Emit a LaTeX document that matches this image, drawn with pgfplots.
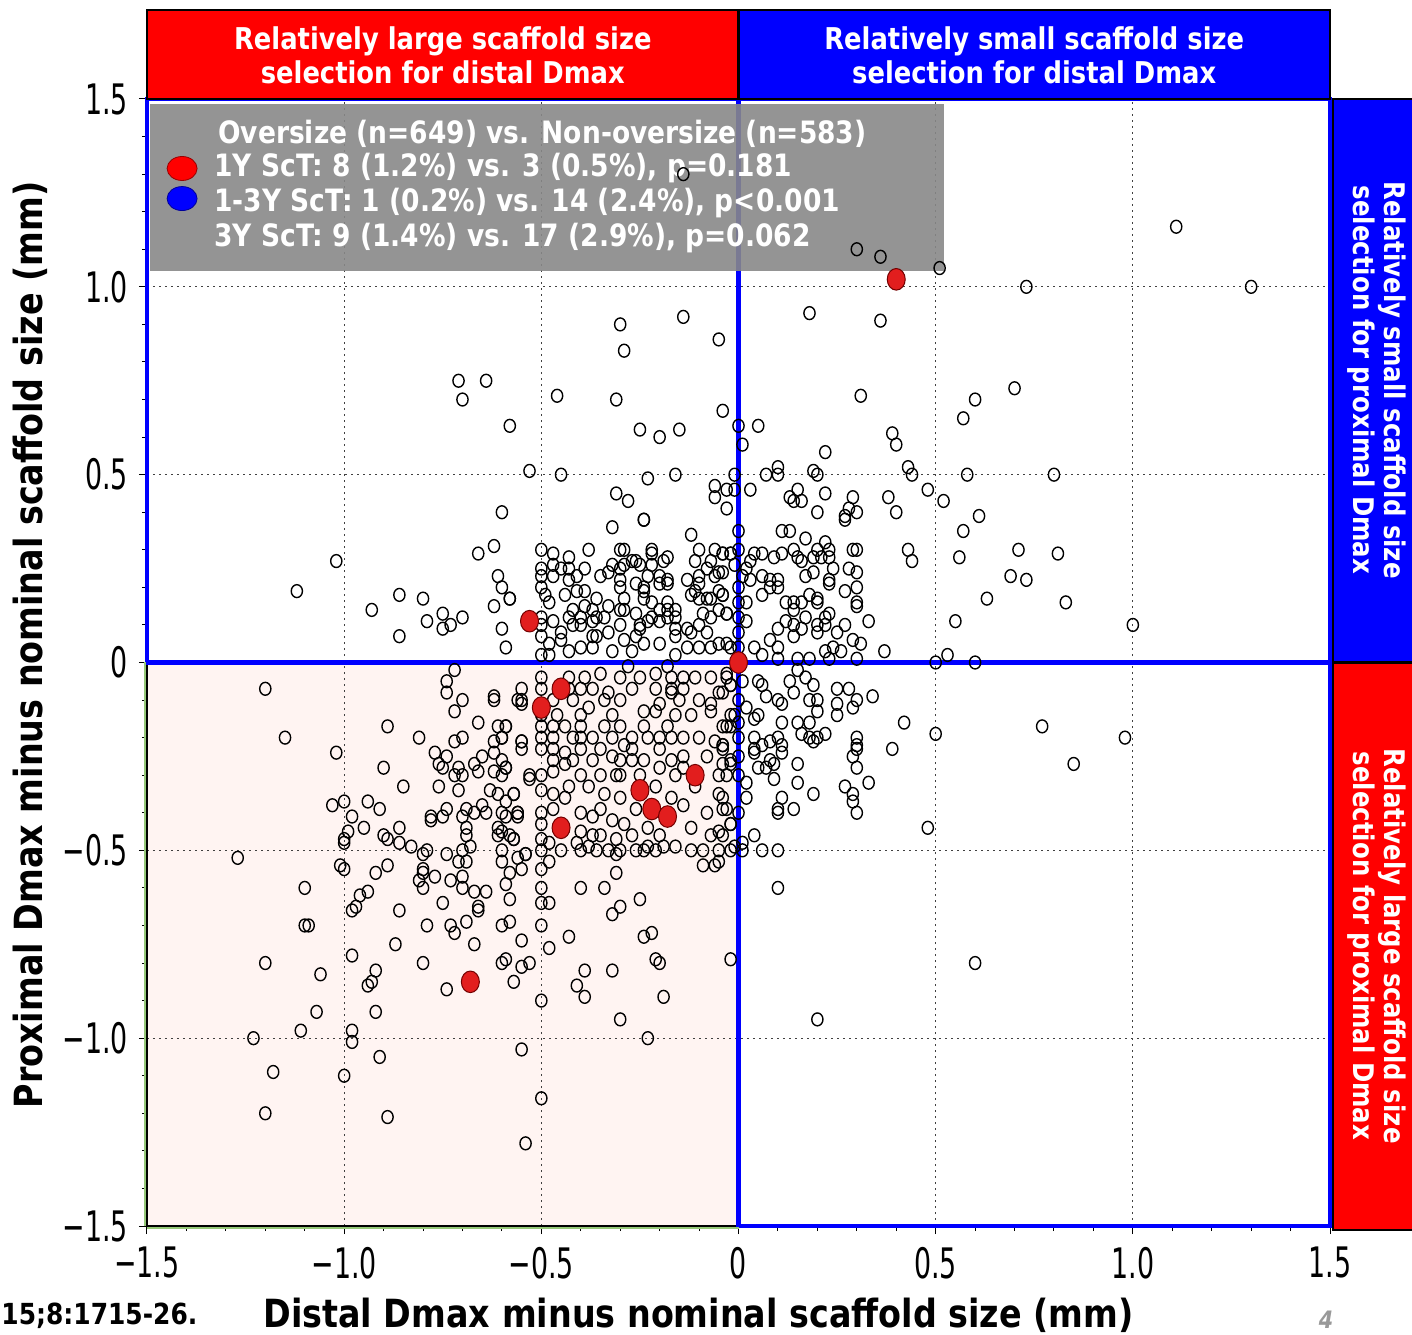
\documentclass[border=0pt]{standalone}
\usepackage{fontspec}
\setmainfont{DejaVu Sans}
\newfontfamily\condfont[FakeStretch=0.86]{DejaVu Sans}
\newfontfamily\tickfont[FakeStretch=0.64]{DejaVu Sans}
\usepackage{pgfplots}
\pgfplotsset{compat=1.18}

\definecolor{hdred}{RGB}{255,0,0}
\definecolor{hdblue}{RGB}{0,0,255}
\definecolor{dotred}{RGB}{226,30,30}
\definecolor{pinkbg}{RGB}{255,244,242}
\definecolor{legendgray}{RGB}{136,136,136}
\definecolor{axisgreen}{RGB}{150,200,120}

\begin{document}
\begin{tikzpicture}
\useasboundingbox (-73.5pt,-54pt) rectangle (632.5pt,613pt);
% lower-left quadrant shading (under the grid)
\fill[pinkbg] (0pt,0pt) rectangle (295.75pt,281.75pt);
\begin{axis}[
  scale only axis, width=591.5pt, height=563.5pt,
  at={(0pt,0pt)}, anchor=south west,
  xmin=-1.5, xmax=1.5, ymin=-1.5, ymax=1.5,
  clip=false,
  xtick={-1.5,-1,-0.5,0,0.5,1,1.5},
  ytick={-1.5,-1,-0.5,0,0.5,1,1.5},
  xticklabels={−1.5,−1.0,−0.5,0,0.5,1.0,1.5},
  yticklabels={−1.5,−1.0,−0.5,0,0.5,1.0,1.5},
  minor tick num=4,
  xtick pos=bottom, ytick pos=left,
  tick align=outside, major tick length=4pt, minor tick length=2.5pt,
  tick style={black, line width=0.5pt},
  grid=major,
  major grid style={black!75, line width=0.6pt, dash pattern=on 0.8pt off 2.2pt},
  axis line style={black, line width=0.6pt},
  xticklabel style={font=\tickfont\fontsize{21}{24}\selectfont, yshift=-3pt},
  yticklabel style={font=\tickfont\fontsize{21}{24}\selectfont, xshift=-2pt},
]
% part of the distal divider that passes under the legend box
\draw[hdblue, line width=2.2pt] (axis cs:0,1.04) -- (axis cs:0,1.5);
% legend panel
\fill[legendgray, fill opacity=0.9] (axis cs:-1.492,1.488) rectangle (axis cs:0.521,1.043);

% all patients
\addplot[only marks, mark=o, mark size=2.8pt,
  mark options={draw=black, line width=0.7pt, yscale=1.15}] coordinates {
(-0.71,0.75)(-0.64,0.75)(-0.70,0.70)(-0.58,0.63)(-0.53,0.51)(-0.60,0.40)(-0.62,0.31)(-0.66,0.29)(-1.02,0.27)(-1.12,0.19)(-0.61,0.23)(-0.60,0.20)(-0.58,0.17)(-0.62,0.15)(-0.86,0.18)(-0.80,0.17)(-0.93,0.14)(-0.75,0.13)(-0.79,0.11)(-0.70,0.12)(-0.73,0.10)(-0.75,0.09)(-0.86,0.07)(-0.60,0.09)(-0.59,0.04)
(-0.50,0.30)(-0.50,0.25)(-0.50,0.23)(-0.50,0.20)(-0.50,0.12)(-0.50,0.10)(-0.50,0.07)(-0.50,0.02)
(-0.46,0.71)(-0.45,0.50)(-0.30,0.90)(-0.29,0.83)(-0.14,0.92)(-0.05,0.86)(-0.31,0.70)(-0.25,0.62)(-0.20,0.60)(-0.15,0.62)(-0.04,0.67)(-0.31,0.45)(-0.28,0.43)(-0.24,0.38)(-0.23,0.49)(-0.16,0.50)(-0.06,0.47)(-0.06,0.44)(-0.03,0.46)(-0.12,0.34)(-0.32,0.36)(-0.14,1.30)
(-0.24,0.38)(-0.47,0.29)(-0.43,0.28)(-0.38,0.30)(-0.30,0.30)(-0.29,0.30)(-0.22,0.30)(-0.22,0.29)(-0.18,0.28)(-0.10,0.30)(-0.06,0.30)(-0.04,0.29)(-0.02,0.29)
(-0.49,0.18)(-0.48,0.16)(-0.47,0.26)(-0.47,0.23)(-0.45,0.25)(-0.43,0.25)(-0.43,0.22)(-0.41,0.23)(-0.39,0.25)(-0.35,0.23)(-0.33,0.24)(-0.32,0.26)(-0.30,0.25)(-0.29,0.26)(-0.27,0.27)(-0.26,0.27)(-0.25,0.26)(-0.22,0.26)(-0.19,0.27)
(-0.30,0.22)(-0.30,0.20)(-0.26,0.21)(-0.24,0.20)(-0.24,0.19)(-0.23,0.23)(-0.20,0.23)(-0.20,0.21)(-0.18,0.22)(-0.18,0.21)(-0.13,0.22)(-0.11,0.27)(-0.10,0.23)(-0.10,0.21)(-0.08,0.25)(-0.07,0.27)(-0.06,0.23)(-0.05,0.24)(-0.05,0.19)(-0.04,0.18)(-0.11,0.19)(-0.12,0.18)(-0.10,0.17)(-0.08,0.17)(-0.07,0.17)
(-0.44,0.18)(-0.41,0.19)(-0.39,0.19)(-0.36,0.17)(-0.33,0.15)(-0.29,0.17)(-0.29,0.14)(-0.26,0.13)(-0.24,0.17)(-0.22,0.16)(-0.20,0.14)(-0.18,0.16)(-0.18,0.14)(-0.16,0.12)
(-0.42,0.14)(-0.39,0.15)(-0.37,0.14)(-0.36,0.12)(-0.34,0.12)(-0.40,0.12)(-0.43,0.12)(-0.47,0.11)(-0.48,0.05)(-0.45,0.08)(-0.45,0.06)(-0.42,0.10)(-0.40,0.10)(-0.37,0.11)(-0.37,0.07)(-0.36,0.07)(-0.33,0.08)(-0.30,0.14)(-0.30,0.10)(-0.29,0.06)(-0.26,0.07)(-0.25,0.10)(-0.25,0.09)(-0.23,0.11)(-0.22,0.12)(-0.20,0.11)(-0.18,0.12)(-0.16,0.09)(-0.16,0.07)(-0.13,0.09)(-0.12,0.08)(-0.10,0.10)(-0.09,0.13)(-0.08,0.08)(-0.07,0.12)(-0.05,0.14)(-0.03,0.13)(-0.05,0.05)(-0.02,0.04)
(-0.58,0.17)(-0.48,0.02)(-0.43,0.03)(-0.40,0.04)(-0.37,0.04)(-0.32,0.03)(-0.27,0.03)(-0.24,0.05)(-0.20,0.05)(-0.16,0.02)(-0.13,0.04)(-0.10,0.04)(-0.07,0.04)(-0.16,0.14)
(-0.50,-0.04)(-0.50,-0.07)(-0.55,-0.07)(-0.55,-0.11)(-0.59,-0.17)(-0.60,-0.20)(-0.55,-0.21)(-0.55,-0.23)(-0.53,-0.30)(-0.59,-0.28)(-0.57,-0.35)(-0.56,-0.40)(-0.59,-0.41)(-0.57,-0.47)(-0.54,-0.51)
(-0.50,-0.14)(-0.50,-0.17)(-0.50,-0.20)(-0.50,-0.23)(-0.50,-0.30)(-0.50,-0.34)(-0.50,-0.40)(-0.50,-0.43)(-0.50,-0.47)(-0.50,-0.50)
(-0.47,-0.10)(-0.47,-0.17)(-0.47,-0.20)(-0.47,-0.23)(-0.47,-0.26)(-0.47,-0.29)(-0.47,-0.35)(-0.47,-0.39)(-0.48,-0.48)(-0.46,-0.14)(-0.44,-0.17)(-0.44,-0.24)(-0.44,-0.27)(-0.44,-0.36)(-0.43,-0.33)(-0.42,-0.10)(-0.42,-0.20)(-0.42,-0.26)
(-0.40,-0.07)(-0.40,-0.14)(-0.40,-0.17)(-0.40,-0.20)(-0.40,-0.23)(-0.40,-0.30)(-0.40,-0.40)(-0.40,-0.45)(-0.41,-0.48)(-0.43,-0.04)(-0.43,-0.07)(-0.39,-0.04)(-0.37,-0.07)(-0.38,-0.12)(-0.37,-0.20)(-0.37,-0.26)(-0.38,-0.33)(-0.37,-0.41)(-0.37,-0.46)(-0.38,-0.49)
(-0.35,-0.03)(-0.34,-0.10)(-0.34,-0.17)(-0.35,-0.23)(-0.35,-0.30)(-0.34,-0.35)(-0.35,-0.39)(-0.35,-0.46)(-0.33,-0.08)(-0.32,-0.14)(-0.32,-0.20)(-0.32,-0.25)(-0.31,-0.30)(-0.32,-0.42)(-0.31,-0.47)
(-0.30,-0.04)(-0.30,-0.10)(-0.30,-0.17)(-0.29,-0.22)(-0.30,-0.26)(-0.30,-0.30)(-0.30,-0.36)(-0.29,-0.43)(-0.31,-0.51)(-0.28,-0.01)(-0.27,-0.07)(-0.27,-0.20)(-0.27,-0.23)(-0.27,-0.26)(-0.26,-0.39)(-0.27,-0.46)(-0.26,-0.50)
(-0.25,-0.04)(-0.24,-0.13)(-0.24,-0.17)(-0.23,-0.20)(-0.24,-0.26)(-0.25,-0.30)(-0.23,-0.44)(-0.23,-0.49)(-0.21,-0.03)(-0.21,-0.07)(-0.20,-0.11)(-0.21,-0.13)(-0.20,-0.20)(-0.20,-0.23)(-0.20,-0.28)(-0.21,-0.33)(-0.19,-0.49)
(-0.18,-0.01)(-0.17,-0.04)(-0.17,-0.07)(-0.17,-0.08)(-0.16,-0.14)(-0.18,-0.17)(-0.17,-0.20)(-0.17,-0.26)(-0.16,-0.30)(-0.17,-0.36)(-0.16,-0.49)(-0.14,-0.04)(-0.14,-0.07)(-0.15,-0.10)(-0.14,-0.20)(-0.14,-0.25)(-0.14,-0.28)(-0.14,-0.38)(-0.12,-0.14)
(-0.11,-0.04)(-0.10,-0.10)(-0.10,-0.20)(-0.11,-0.33)(-0.12,-0.44)(-0.08,-0.25)(-0.08,-0.40)(-0.07,-0.04)(-0.07,-0.11)(-0.07,-0.13)(-0.06,-0.21)(-0.05,-0.08)(-0.05,-0.30)(-0.05,-0.35)(-0.05,-0.45)(-0.04,-0.22)(-0.04,-0.39)(-0.02,-0.06)(-0.02,-0.14)(-0.02,-0.17)(-0.02,-0.26)(-0.02,-0.43)(-0.02,-0.50)(-0.03,-0.04)(-0.09,-0.50)(-0.07,-0.46)(-0.40,-0.50)(-0.45,-0.50)(-0.20,-0.46)
(-0.36,-0.50)(-0.33,-0.50)(-0.30,-0.50)(-0.24,-0.50)(-0.21,-0.50)(-0.12,-0.50)(-0.05,-0.50)
(0.00,0.63)(0.05,0.63)(0.01,0.58)(0.22,0.56)(0.39,0.61)(0.40,0.58)(0.43,0.52)(0.44,0.50)(0.07,0.50)(0.10,0.52)(0.10,0.50)(0.19,0.51)(0.20,0.50)(-0.01,0.50)(-0.01,0.46)(0.03,0.46)(-0.03,0.41)(0.13,0.44)(0.15,0.46)(0.16,0.43)(0.14,0.43)(0.22,0.45)(0.20,0.40)(0.29,0.44)(0.28,0.41)(0.27,0.39)(0.27,0.38)(0.30,0.40)(0.38,0.44)(0.40,0.40)
(0.00,0.35)(0.11,0.35)(0.13,0.35)(0.17,0.33)(0.22,0.32)(0.43,0.30)(0.44,0.27)(0.29,0.30)(0.30,0.30)(-0.04,0.29)(-0.02,0.29)(0.00,0.30)(0.04,0.29)(0.06,0.29)(0.03,0.27)(0.09,0.28)(0.11,0.29)(0.14,0.30)(0.15,0.28)(0.16,0.27)(0.19,0.28)(0.20,0.30)(0.21,0.28)(0.23,0.30)(0.23,0.28)(0.24,0.25)
(-0.01,0.26)(0.02,0.25)(0.01,0.23)(0.03,0.22)(0.06,0.23)(0.08,0.22)(0.10,0.22)(0.08,0.20)(0.10,0.20)(0.06,0.18)(0.17,0.23)(0.19,0.24)(0.23,0.22)(0.23,0.21)(0.28,0.25)(0.30,0.24)(0.27,0.19)(0.30,0.20)(0.30,0.16)(0.30,0.15)(0.18,0.18)(0.20,0.17)(0.20,0.16)(0.12,0.16)(0.14,0.16)(0.16,0.16)(0.14,0.14)(0.17,0.12)(0.12,0.11)(0.14,0.10)(0.16,0.09)(0.20,0.10)(0.22,0.12)(0.23,0.13)(0.22,0.10)
(0.10,0.09)(0.08,0.06)(0.10,0.04)(0.14,0.07)(0.20,0.08)(0.25,0.08)(0.27,0.10)(0.29,0.06)(0.31,0.05)(0.33,0.11)(0.24,0.04)(0.26,0.03)(0.22,0.03)(0.37,0.03)(-0.04,0.18)(-0.03,0.13)(0.02,0.16)(0.02,0.11)(0.00,0.08)(0.04,0.04)(-0.03,0.05)(-0.04,0.24)(0.00,0.20)(0.00,0.16)(0.00,0.12)(0.00,0.04)(0.06,0.02)(0.10,0.01)(0.15,0.01)(0.18,0.01)(0.23,0.01)(0.30,0.01)
(0.15,-0.02)(0.17,-0.04)(0.13,-0.05)(0.19,-0.06)(0.14,-0.08)(0.06,-0.06)(0.05,-0.05)(0.07,-0.09)(0.10,-0.10)(0.11,-0.11)(0.18,-0.10)(0.20,-0.10)(0.20,-0.13)(0.25,-0.07)(0.28,-0.07)(0.30,-0.10)(0.29,-0.12)(0.25,-0.11)(0.25,-0.14)(0.34,-0.09)(0.42,-0.16)(0.39,-0.23)
(0.01,-0.05)(-0.02,-0.06)(0.00,-0.10)(0.02,-0.12)(0.04,-0.15)(0.05,-0.14)(0.00,-0.16)(0.11,-0.16)(0.15,-0.16)(0.18,-0.16)(0.16,-0.19)(0.18,-0.20)(0.20,-0.20)(0.22,-0.19)(0.19,-0.21)(0.10,-0.20)(0.08,-0.21)(0.06,-0.22)(0.04,-0.20)(0.04,-0.23)(0.04,-0.24)(0.11,-0.22)(0.11,-0.24)(0.00,-0.20)(0.00,-0.25)(0.00,-0.30)(0.02,-0.32)(0.02,-0.36)(0.00,-0.40)
(0.05,-0.28)(0.07,-0.28)(0.09,-0.27)(0.08,-0.26)(0.09,-0.31)(0.15,-0.27)(0.15,-0.32)(0.19,-0.35)(0.11,-0.36)(0.10,-0.39)(0.10,-0.40)(0.14,-0.39)(0.27,-0.33)(0.29,-0.35)(0.29,-0.37)(0.30,-0.40)(0.33,-0.32)(0.29,-0.25)(0.30,-0.23)(0.30,-0.20)(0.30,-0.22)(0.30,-0.28)(0.04,-0.46)(0.06,-0.50)(0.10,-0.50)(0.01,-0.50)(0.01,-0.48)(-0.01,-0.49)
(-0.03,-0.03)(-0.04,-0.08)(-0.04,-0.17)(-0.03,-0.17)(-0.01,-0.14)(-0.04,-0.22)(-0.04,-0.23)(-0.02,-0.27)(-0.04,-0.27)(-0.03,-0.30)(-0.04,-0.36)(-0.03,-0.39)(-0.02,-0.43)(-0.04,-0.46)
(0.30,1.10)(0.36,1.08)(0.51,1.05)(0.18,0.93)(0.36,0.91)(0.31,0.71)(0.48,0.46)(0.52,0.43)(0.58,0.50)(0.57,0.65)(0.60,0.70)(0.70,0.73)(0.80,0.50)(1.11,1.16)(0.73,1.00)(1.30,1.00)(0.61,0.39)(0.57,0.35)(0.56,0.28)(0.71,0.30)(0.81,0.29)(0.69,0.23)(0.73,0.22)(0.63,0.17)(0.83,0.16)(1.00,0.10)(0.55,0.11)(0.53,0.02)(0.50,0.00)(0.60,0.00)
(0.50,-0.19)(0.77,-0.17)(0.85,-0.27)(0.98,-0.20)(0.48,-0.44)(0.60,-0.80)(0.20,-0.95)(0.10,-0.60)(-0.02,-0.79)
(-1.20,-0.07)(-1.15,-0.20)(-1.02,-0.24)(-0.89,-0.17)(-0.90,-0.28)(-0.85,-0.33)(-0.81,-0.20)(-0.77,-0.24)(-0.76,-0.27)(-0.75,-0.28)(-0.74,-0.25)(-0.74,-0.05)(-0.74,-0.08)(-0.72,-0.02)(-0.72,-0.13)(-0.70,-0.10)(-0.72,-0.21)(-0.70,-0.20)(-0.71,-0.28)(-0.72,-0.30)(-0.70,-0.30)(-0.71,-0.34)(-0.76,-0.33)
(-0.66,-0.16)(-0.67,-0.27)(-0.65,-0.25)(-0.66,-0.29)(-0.62,-0.09)(-0.62,-0.10)(-0.61,-0.17)(-0.59,-0.17)(-0.62,-0.21)(-0.60,-0.20)(-0.62,-0.24)(-0.60,-0.26)(-0.59,-0.28)(-0.60,-0.30)(-0.62,-0.29)(-0.63,-0.34)(-0.61,-0.35)(-0.59,-0.37)(-0.57,-0.35)(-0.55,-0.10)(-0.56,-0.10)(-0.55,-0.21)(-0.53,-0.31)
(-1.03,-0.38)(-1.00,-0.37)(-0.98,-0.41)(-0.99,-0.45)(-1.00,-0.47)(-1.00,-0.48)(-0.95,-0.44)(-0.94,-0.37)(-0.91,-0.39)(-0.90,-0.46)(-0.89,-0.47)(-0.86,-0.44)(-0.86,-0.48)(-0.83,-0.49)(-0.79,-0.50)(-0.80,-0.51)(-0.74,-0.51)(-0.74,-0.39)(-0.75,-0.41)(-0.78,-0.41)(-0.78,-0.42)(-0.70,-0.41)(-0.69,-0.39)(-0.67,-0.40)(-0.64,-0.40)(-0.65,-0.38)
(-0.69,-0.44)(-0.69,-0.46)(-0.70,-0.50)(-0.68,-0.49)(-0.71,-0.53)(-0.69,-0.53)(-0.60,-0.40)(-0.61,-0.44)(-0.61,-0.46)(-0.60,-0.45)(-0.58,-0.46)(-0.57,-0.47)(-0.60,-0.50)(-0.60,-0.53)(-0.56,-0.52)(-0.54,-0.51)(-0.56,-0.40)(-0.56,-0.41)
(-1.27,-0.52)(-1.01,-0.54)(-1.00,-0.55)(-0.89,-0.54)(-0.92,-0.56)(-0.80,-0.55)(-0.80,-0.56)(-0.77,-0.57)(-0.81,-0.58)(-0.80,-0.60)(-0.73,-0.58)(-0.70,-0.57)(-0.70,-0.60)(-0.67,-0.61)(-0.64,-0.61)(-0.75,-0.64)(-0.66,-0.65)(-0.66,-0.66)(-0.58,-0.56)(-0.59,-0.59)(-0.58,-0.63)(-0.55,-0.55)
(-1.10,-0.60)(-0.96,-0.62)(-0.94,-0.61)(-0.97,-0.65)(-0.98,-0.66)(-0.86,-0.66)(-1.10,-0.70)(-1.09,-0.70)(-0.79,-0.70)(-0.73,-0.70)(-0.72,-0.72)(-0.69,-0.69)(-0.60,-0.70)(-0.58,-0.69)(-0.50,-0.70)(-0.87,-0.75)(-0.67,-0.75)(-0.55,-0.74)
(-1.20,-0.80)(-1.06,-0.83)(-0.98,-0.78)(-0.92,-0.82)(-0.93,-0.85)(-0.94,-0.86)(-0.80,-0.80)(-0.74,-0.87)(-0.60,-0.80)(-0.59,-0.79)(-0.55,-0.81)(-0.53,-0.80)(-0.57,-0.85)(-0.50,-0.90)
(-1.07,-0.93)(-0.92,-0.93)(-1.11,-0.98)(-1.23,-1.00)(-0.98,-0.98)(-0.98,-1.01)(-0.91,-1.05)(-0.55,-1.03)(-1.18,-1.09)(-1.00,-1.10)(-0.50,-1.16)(-1.20,-1.20)(-0.89,-1.21)(-0.54,-1.28)
(-0.40,-0.60)(-0.39,-0.89)(-0.39,-0.82)(-0.32,-0.82)(-0.34,-0.60)(-0.32,-0.67)(-0.30,-0.65)(-0.30,-0.95)(-0.23,-1.00)(-0.19,-0.89)(-0.21,-0.79)(-0.20,-0.80)(-0.22,-0.72)(-0.24,-0.73)(-0.25,-0.63)(-0.43,-0.73)(-0.41,-0.86)(-0.48,-0.76)(-0.48,-0.64)(-0.06,-0.54)(-0.09,-0.54)(-0.05,-0.53)
(-0.50,-0.55)(-0.48,-0.53)(-0.50,-0.60)(-0.31,-0.56)(-0.50,-0.64)
};

% one-year scaffold thrombosis
\addplot[only marks, mark=*, mark size=4.5pt,
  mark options={fill=dotred, draw=black!55!red, line width=0.5pt, yscale=1.2}] coordinates {
(-0.53,0.11)(0.00,0.00)(0.40,1.02)(-0.45,-0.07)(-0.50,-0.12)(-0.25,-0.34)(-0.22,-0.39)(-0.18,-0.41)(-0.11,-0.30)(-0.45,-0.44)(-0.68,-0.85)
};

% quadrant frames
\draw[hdblue, line width=2.4pt] (axis cs:-1.5,0) rectangle (axis cs:1.5,1.5);
\draw[hdblue, line width=2.4pt] (axis cs:0,-1.5) rectangle (axis cs:1.5,0);
\draw[hdblue, line width=2.4pt] (axis cs:0,-1.5) -- (axis cs:0,1.04);

% legend content
\fill[hdred, draw=black!40!red, line width=0.4pt] (axis cs:-1.411,1.315) ellipse [x radius=7.5pt, y radius=6pt];
\fill[hdblue, draw=black!40!blue, line width=0.4pt] (axis cs:-1.411,1.235) ellipse [x radius=7.5pt, y radius=6pt];
\begin{scope}[every node/.style={anchor=west, text=white, inner sep=0pt,
    font=\condfont\bfseries\fontsize{15.4}{18}\selectfont}]
\node at (axis cs:-1.320,1.408) {Oversize (n=649) vs. Non-oversize (n=583)};
\node at (axis cs:-1.330,1.315) {1Y ScT: 8 (1.2\%) vs. 3 (0.5\%), p=0.181};
\node at (axis cs:-1.330,1.222) {1-3Y ScT: 1 (0.2\%) vs. 14 (2.4\%), p<0.001};
\node at (axis cs:-1.330,1.129) {3Y ScT: 9 (1.4\%) vs. 17 (2.9\%), p=0.062};
\end{scope}
\end{axis}

% edge accent of the shaded quadrant
\draw[axisgreen, line width=1pt] (-1pt,0pt) -- (-1pt,281.75pt);
\draw[axisgreen, line width=1pt] (0pt,-1.2pt) -- (295.75pt,-1.2pt);

% header boxes
\filldraw[fill=hdred, draw=black, line width=1.2pt] (0pt,563.5pt) rectangle (295.75pt,608pt);
\filldraw[fill=hdblue, draw=black, line width=1.2pt] (295.75pt,563.5pt) rectangle (591.5pt,608pt);
\node[text=white, align=center, font=\condfont\bfseries\fontsize{15}{17}\selectfont] at (147.9pt,585.5pt)
  {Relatively large scaffold size\\selection for distal Dmax};
\node[text=white, align=center, font=\condfont\bfseries\fontsize{15}{17}\selectfont] at (443.6pt,585.5pt)
  {Relatively small scaffold size\\selection for distal Dmax};

% side boxes
\filldraw[fill=hdblue, draw=black, line width=1.2pt] (593pt,281.75pt) rectangle (634pt,563.5pt);
\filldraw[fill=hdred, draw=black, line width=1.2pt] (593pt,-2pt) rectangle (634pt,281.75pt);
\node[rotate=-90, text=white, align=center, font=\condfont\bfseries\fontsize{14.2}{15.5}\selectfont] at (614.75pt,423pt)
  {Relatively small scaffold size\\selection for proximal Dmax};
\node[rotate=-90, text=white, align=center, font=\condfont\bfseries\fontsize{14.2}{15.5}\selectfont] at (614.75pt,140pt)
  {Relatively large scaffold size\\selection for proximal Dmax};

% axis titles
\node[rotate=90, font=\condfont\bfseries\fontsize{19.4}{22}\selectfont] at (-58.5pt,290.5pt)
  {Proximal Dmax minus nominal scaffold size (mm)};
\node[font=\condfont\bfseries\fontsize{19.4}{22}\selectfont] at (275.75pt,-44.5pt)
  {Distal Dmax minus nominal scaffold size (mm)};

% reference and page number
\node[anchor=west, inner sep=0pt, font=\condfont\bfseries\fontsize{14.5}{16}\selectfont] at (-73pt,-45pt) {15;8:1715-26.};
\node[anchor=south, inner sep=0pt, text=black!40, font=\condfont\bfseries\itshape\fontsize{12}{13}\selectfont] at (589.5pt,-51.5pt) {4};
\end{tikzpicture}
\end{document}
